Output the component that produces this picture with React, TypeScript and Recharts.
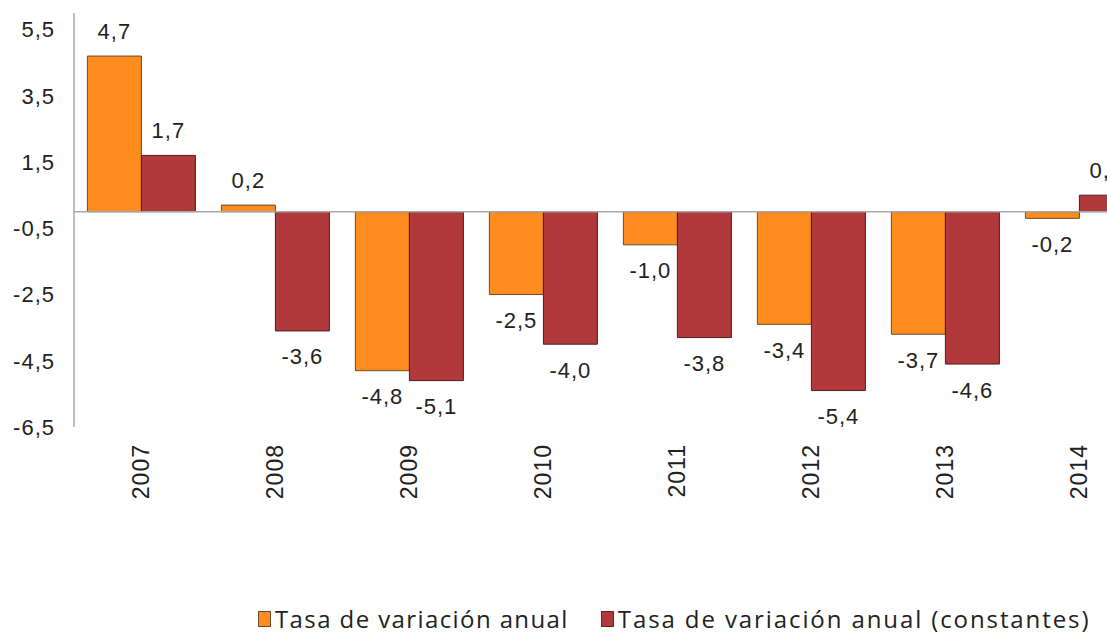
import React from 'react';
import { BarChart, Bar, XAxis, YAxis, ReferenceLine, LabelList, Legend } from 'recharts';

const years = ['2007', '2008', '2009', '2010', '2011', '2012', '2013', '2014'];
const tasaAnual = [4.7, 0.2, -4.8, -2.5, -1.0, -3.4, -3.7, -0.2];
const tasaConstantes = [1.7, -3.6, -5.1, -4.0, -3.8, -5.4, -4.6, 0.5];
const yTicks = [-6.5, -4.5, -2.5, -0.5, 1.5, 3.5, 5.5];

const ORANGE = '#FF8C1E';
const RED = '#B2393B';
const TEXT = '#222222';
const FONT = '"Liberation Sans", Arial, sans-serif';

const data = years.map((year, i) => ({
  year,
  anual: tasaAnual[i],
  constantes: tasaConstantes[i],
}));

const fmt = (v: number) => v.toFixed(1).replace('.', ',');

const ValueLabel = (props: any) => {
  const { x, y, width, height, value } = props;
  const top = Math.min(y, y + height);
  const bottom = Math.max(y, y + height);
  const cx = x + width / 2;
  const cy = value >= 0 ? top - 25 : bottom + 26;
  return (
    <text x={cx} y={cy} textAnchor="middle" dominantBaseline="central" fontSize={22} letterSpacing={1} fill={TEXT} fontFamily={FONT}>
      {fmt(value)}
    </text>
  );
};

const YearTick = (props: any) => {
  const { x, y, payload } = props;
  return (
    <g transform={`translate(${x},${y + 15})`}>
      <text transform="rotate(-90)" textAnchor="end" dominantBaseline="central" fontSize={23} letterSpacing={1} fill={TEXT} fontFamily={FONT}>
        {payload.value}
      </text>
    </g>
  );
};

const LegendContent = () => (
  <div style={{ display: 'flex', alignItems: 'center', paddingLeft: 258, paddingTop: 30, fontFamily: '"Open Sans", sans-serif', fontSize: 24, letterSpacing: 1.4, color: TEXT, whiteSpace: 'nowrap', lineHeight: '30px' }}>
    <span style={{ display: 'inline-block', width: 11, height: 14, background: ORANGE, border: '1px solid #6b4a2a', marginRight: 4 }} />
    <span style={{ marginRight: 32 }}>Tasa de variación anual</span>
    <span style={{ display: 'inline-block', width: 11, height: 14, background: RED, border: '1px solid #5a2a2a', marginRight: 4 }} />
    <span style={{ letterSpacing: 1.9 }}>Tasa de variación anual (constantes)</span>
  </div>
);

export default function App() {
  return (
    <div style={{ width: 1107, height: 634, overflow: 'hidden', position: 'relative', background: '#fff' }}>
      <style>{'body{margin:0}'}</style>
      <BarChart
        width={1160}
        height={634}
        data={data}
        margin={{ top: 13, right: 14, bottom: 0, left: 0 }}
        barCategoryGap="10%"
        barGap={0}
      >
        <XAxis dataKey="year" axisLine={false} tickLine={false} tickSize={0} height={147} tick={<YearTick />} interval={0} />
        <YAxis
          width={74}
          domain={[-6.5, 6]}
          ticks={yTicks}
          allowDataOverflow
          tickFormatter={fmt}
          tickLine={false}
          tickSize={0}
          tickMargin={19}
          axisLine={{ stroke: '#a8a8a8', strokeWidth: 1.5 }}
          tick={{ fontSize: 22, letterSpacing: 1, fill: TEXT, fontFamily: FONT }}
        />
        <Legend verticalAlign="bottom" height={60} content={<LegendContent />} />
        <Bar dataKey="anual" fill={ORANGE} stroke="#6b4a2a" strokeWidth={1} isAnimationActive={false}>
          <LabelList dataKey="anual" content={<ValueLabel />} />
        </Bar>
        <Bar dataKey="constantes" fill={RED} stroke="#4a2020" strokeWidth={1} isAnimationActive={false}>
          <LabelList dataKey="constantes" content={<ValueLabel />} />
        </Bar>
        <ReferenceLine y={0} stroke="#a8a8a8" strokeWidth={1.5} />
      </BarChart>
    </div>
  );
}
